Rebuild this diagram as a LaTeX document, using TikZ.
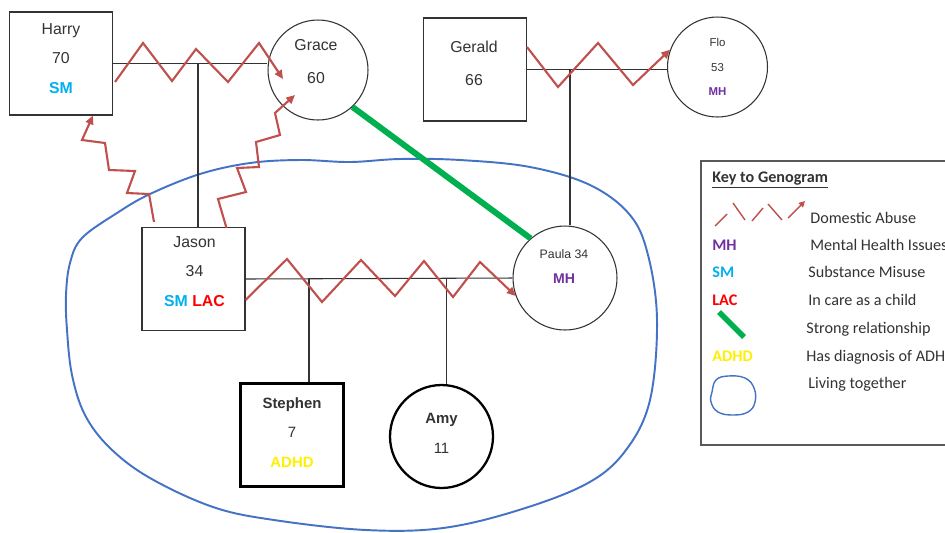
\documentclass[tikz,border=0pt]{standalone}
\usepackage{fontspec}
\setmainfont{Liberation Sans}
\newfontfamily\keyfont{Carlito}
\usetikzlibrary{calc,arrows.meta}

\definecolor{abusered}{RGB}{192,80,77}
\definecolor{smblue}{RGB}{0,176,240}
\definecolor{mhpurple}{RGB}{112,48,160}
\definecolor{lacred}{RGB}{255,0,0}
\definecolor{adhdyellow}{RGB}{255,240,0}
\definecolor{stronggreen}{RGB}{0,176,80}
\definecolor{homeblue}{RGB}{68,114,196}
\definecolor{inkgray}{RGB}{51,51,51}
\definecolor{framegray}{RGB}{89,89,89}

\newcommand{\smtag}{{\color{smblue}\bfseries SM}}
\newcommand{\mhtag}{{\color{mhpurple}\bfseries MH}}
\newcommand{\lactag}{{\color{lacred}\bfseries LAC}}
\newcommand{\adhdtag}{{\color{adhdyellow}\bfseries ADHD}}

\tikzset{
  male/.style={draw=inkgray, line width=0.6pt, minimum width=2.06cm, minimum height=2.06cm, inner sep=0pt},
  female/.style={circle, draw=inkgray, line width=0.6pt, minimum size=2cm, inner sep=0pt},
  child/.style={draw=black, line width=1.3pt},
  info/.style={align=center, text=inkgray, inner sep=0pt, font=\fontsize{9}{17}\selectfont},
  rel/.style={draw=inkgray, line width=0.6pt},
  abuse/.style={draw=abusered, line width=1.2pt, -{Triangle[length=5pt,width=4.5pt]}},
  keyabuse/.style={draw=abusered, line width=0.8pt},
  strong/.style={draw=stronggreen, line width=3.4pt},
  home/.style={draw=homeblue, line width=1.1pt},
  keytext/.style={anchor=base west, inner sep=0pt, text=inkgray, font=\keyfont\fontsize{9.2}{11}\selectfont}
}

\begin{document}
\begin{tikzpicture}[x=0.02cm, y=-0.02cm]

  \useasboundingbox (0,0) rectangle (945,532);
  \clip (0,0) rectangle (945,532);
  \fill[white] (0,0) rectangle (945,532);

  % Living together
  \draw[home] plot[smooth cycle, tension=0.6] coordinates {
    (117,213) (150,194) (200,174) (250,163) (300,160) (350,162) (400,159)
    (460,160) (530,167) (590,185) (630,215) (648,255) (657,320) (650,400)
    (626,450) (588,483) (519,510) (443,528) (366,530) (274,520) (213,507)
    (150,478) (110,448) (85,415) (72,375) (67,330) (66,295) (70,263) (82,238)};

  % Family members
  \node[male] (harry) at (61,63.5) {};
  \node[female] (grace) at (318,70) {};
  \node[male] (gerald) at (475,69.5) {};
  \node[female] (flo) at (717.5,67) {};
  \node[male] (jason) at (193.5,279) {};
  \node[female, minimum size=2.08cm] (paula) at (565,278) {};
  \node[male, child] (stephen) at (292,435) {};
  \node[female, child, minimum size=2.06cm] (amy) at (441.5,436.5) {};

  % Names, ages and issues
  \node[info] (harry-txt) at ($(harry)+(0,-5)$) {Harry\\70\\\smtag};
  \node[info, font=\fontsize{9}{18.7}\selectfont] (grace-txt) at ($(grace)+(-2,-8.5)$) {Grace\\60};
  \node[info, font=\fontsize{9}{18.7}\selectfont] (gerald-txt) at ($(gerald)+(-1,-6)$) {Gerald\\66};
  \node[info, font=\fontsize{6.5}{14}\selectfont] (flo-txt) at (flo) {Flo\\53\\\mhtag};
  \node[info] (jason-txt) at ($(jason)+(1,-7.5)$) {Jason\\34\\\smtag\ \lactag};
  \node[info, font=\fontsize{7}{14}\selectfont] (paula-txt) at ($(paula)+(-1,-11.5)$) {Paula 34\\{\fontsize{8}{14}\selectfont\mhtag}};
  \node[info, font=\fontsize{8.5}{16.7}\selectfont] (stephen-txt) at ($(stephen)+(0,-2.5)$) {\textbf{Stephen}\\7\\\adhdtag};
  \node[info, font=\fontsize{8.5}{17}\selectfont] (amy-txt) at ($(amy)+(0,-3.5)$) {\textbf{Amy}\\11};

  % Couples and children
  \coordinate (hg) at (198,63.5);
  \coordinate (gf) at (570,69.5);
  \coordinate (js) at (309,278.7);
  \coordinate (ja) at (446.5,278.5);
  \draw[rel] (harry.east) -- (harry.east -| grace.west);
  \draw[rel] (hg) -- (hg |- jason.north);
  \draw[rel] (gerald.east) -- (gerald.east -| flo.west);
  \draw[rel] (gf) -- (gf |- paula.north);
  \draw[rel] (jason.east) -- (paula.west);
  \draw[rel] (js) -- (js |- stephen.north);
  \draw[rel] (ja) -- (ja |- amy.north);

  % Strong relationship
  \draw[strong] (grace.-47) -- (paula.131);

  % Domestic abuse
  \draw[abuse] ($(harry.east)+(2,18.5)$) -- (143,43) -- (172,81) -- (196,49) -- (228,82) -- (259,43) -- ($(grace)+(-35,9)$);
  \draw[abuse] ($(gerald.east)+(0,-22.5)$) -- (558,87) -- (598,43) -- (633,85) -- (flo.160);
  \draw[abuse] ($(jason.east)+(0,21)$) -- (287,259) -- (322,302) -- (361,260) -- (395,296) -- (424,261) -- (453,297) -- (480,262) -- (paula.200);
  \draw[abuse] ($(jason.north)+(-39.5,-5)$) -- (149,194) -- (127,193) -- (135,171) -- (109,170) -- (105,143) -- (82,140) -- ($(harry.south)+(32,0)$);
  \draw[abuse] ($(jason.north)+(33,1)$) -- (218,199) -- (246,192) -- (237,168) -- (259,167) -- (256,142) -- (280,135) -- (275,113) -- ($(grace)+(-23,25)$);

  % Key
  \draw[framegray, line width=0.7pt] (701,161) rectangle (960,445);
  \node[keytext, font=\keyfont\bfseries\fontsize{9.2}{11}\selectfont] (key-title) at (712,182) {\underline{Key to Genogram}};

  \foreach \xa/\ya/\xb/\yb in {715/226/727/214, 733/203/745/220, 752/221/763/208, 768/204/782/220}
    \draw[keyabuse] (\xa,\ya) -- (\xb,\yb);
  \draw[keyabuse, -{Triangle[length=3.5pt,width=3.5pt]}] (788,218) -- (805,201);
  \node[keytext] (key-da) at (810,223) {Domestic Abuse};

  \node[keytext] (key-mh) at (712,250) {\mhtag};
  \node[keytext] (key-mh-txt) at (810,250) {Mental Health Issues};

  \node[keytext] (key-sm) at (712,277) {\smtag};
  \node[keytext] (key-sm-txt) at (808,277) {Substance Misuse};

  \node[keytext] (key-lac) at (712,305) {\lactag};
  \node[keytext] (key-lac-txt) at (808,305) {In care as a child};

  \draw[strong, line width=3.2pt] (719,312) -- (744,337);
  \node[keytext] (key-strong-txt) at (806,333) {Strong relationship};

  \node[keytext] (key-adhd) at (712,361) {\adhdtag};
  \node[keytext] (key-adhd-txt) at (806,361) {Has diagnosis of ADHD};

  \draw[home, line width=0.8pt] plot[smooth cycle, tension=0.7] coordinates {
    (712,392) (716,380) (728,376) (745,378) (754,388) (755,402) (748,412) (733,415) (718,412) (711,402)};
  \node[keytext] (key-home-txt) at (808,388) {Living together};

\end{tikzpicture}
\end{document}
